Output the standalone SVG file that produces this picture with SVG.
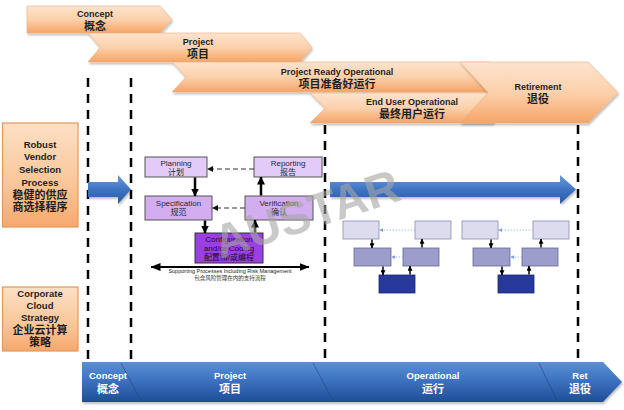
<svg xmlns="http://www.w3.org/2000/svg" width="624" height="410" viewBox="0 0 624 410">
<defs>
<linearGradient id="gOr" x1="0" y1="0" x2="0" y2="1">
<stop offset="0" stop-color="#fde3cd"/><stop offset="0.5" stop-color="#fcd1ac"/><stop offset="1" stop-color="#f5a466"/>
</linearGradient>
<linearGradient id="gBox" x1="0" y1="0" x2="0" y2="1">
<stop offset="0" stop-color="#fde0c6"/><stop offset="0.6" stop-color="#fbc597"/><stop offset="1" stop-color="#f6a86c"/>
</linearGradient>
<linearGradient id="gBlue" x1="0" y1="0" x2="0" y2="1">
<stop offset="0" stop-color="#6c9bdd"/><stop offset="0.5" stop-color="#3e74c3"/><stop offset="1" stop-color="#2b5aa6"/>
</linearGradient>
<linearGradient id="gBar" x1="0" y1="0" x2="0" y2="1">
<stop offset="0" stop-color="#5b90d7"/><stop offset="0.5" stop-color="#3a6fbd"/><stop offset="1" stop-color="#1f4d97"/>
</linearGradient>
<filter id="sh" x="-5%" y="-20%" width="110%" height="150%">
<feDropShadow dx="1" dy="2" stdDeviation="1.2" flood-color="#000" flood-opacity="0.25"/>
</filter>
<marker id="ah" viewBox="0 0 8 8" refX="7.5" refY="4" markerWidth="8" markerHeight="8" markerUnits="userSpaceOnUse" orient="auto">
<path d="M0,0 L8,4 L0,8 Z" fill="#000"/>
</marker>
<marker id="ahs" viewBox="0 0 8 8" refX="7.5" refY="4" markerWidth="6" markerHeight="6" markerUnits="userSpaceOnUse" orient="auto">
<path d="M0,0 L8,4 L0,8 Z" fill="#111"/>
</marker>
<marker id="ahw" viewBox="0 0 10 8" refX="9.5" refY="4" markerWidth="10" markerHeight="8" markerUnits="userSpaceOnUse" orient="auto-start-reverse">
<path d="M0,0 L10,4 L0,8 Z" fill="#000"/>
</marker>
<marker id="ahm" viewBox="0 0 8 8" refX="7.5" refY="4" markerWidth="5" markerHeight="5" markerUnits="userSpaceOnUse" orient="auto">
<path d="M0,0 L8,4 L0,8 Z" fill="#000"/>
</marker>
<marker id="ahb" viewBox="0 0 8 8" refX="7.5" refY="4" markerWidth="4" markerHeight="4" markerUnits="userSpaceOnUse" orient="auto">
<path d="M0,0 L8,4 L0,8 Z" fill="#7fa3dc"/>
</marker>
</defs>
<style>
text{font-family:"Liberation Sans","Noto Sans CJK SC",sans-serif;text-anchor:middle}
.chev{fill:url(#gOr);stroke:#f0b080;stroke-width:0.6;filter:url(#sh)}
.ct{font-size:9px;font-weight:bold;fill:#1e1e1e}
.cz{font-size:11px;font-weight:bold;fill:#1e1e1e}
.lbox{fill:url(#gBox);stroke:#e3985c;stroke-width:1.2}
.lt{font-size:9.5px;font-weight:bold;fill:#1e1e1e}
.lz{font-size:11px;font-weight:bold;fill:#1e1e1e}
.dash{stroke:#000;stroke-width:2.5;stroke-dasharray:9 7;fill:none}
.pa{fill:#e2cbf8;stroke:#555;stroke-width:1}
.pb{fill:#d2aef1;stroke:#555;stroke-width:1}
.pc{fill:#9a3fe4;stroke:#333;stroke-width:1}
.pt{font-size:8px;fill:#2a2a2a}
.ptc{font-size:8px;fill:#1a0a30}
.arr{stroke:#000;stroke-width:2.5;fill:none;marker-end:url(#ah)}
.darr{stroke:#333;stroke-width:1.1;stroke-dasharray:5 3;fill:none;marker-end:url(#ahs)}
.m1{fill:#dcdcee;stroke:#8c8cae;stroke-width:0.8}
.m2{fill:#9d9dcc;stroke:#66668e;stroke-width:0.8}
.m3{fill:#27399b;stroke:#1a2870;stroke-width:0.8}
.marr{stroke:#000;stroke-width:1.5;fill:none;marker-end:url(#ahm)}
.mdot{stroke:#8fb0e0;stroke-width:0.8;stroke-dasharray:1.5 1.5;fill:none;marker-end:url(#ahb)}
.bt{font-size:9.5px;font-weight:bold;fill:#fff}
.bz{font-size:11px;font-weight:bold;fill:#fff}
</style>

<!-- phase chevrons -->
<g id="chev-concept">
<path class="chev" d="M27,6 L160,6 L172,19.5 L160,33 L27,33 Z"/>
<text class="ct" x="95" y="17">Concept</text>
<text class="cz" x="95" y="30">概念</text>
</g>
<g id="chev-project">
<path class="chev" d="M88,33 L300,33 L312,47.5 L300,62 L88,62 L100,47.5 Z"/>
<text class="ct" x="198" y="45">Project</text>
<text class="cz" x="198" y="58">项目</text>
</g>
<g id="chev-ready">
<path class="chev" d="M172,62 L490,62 L505,77 L490,92 L172,92 L186,77 Z"/>
<text class="ct" x="337" y="74.5">Project Ready Operational</text>
<text class="cz" x="337" y="87.5">项目准备好运行</text>
</g>
<g id="chev-enduser">
<path class="chev" d="M310,93 L492,93 L507,108 L492,123 L310,123 L325,108 Z"/>
<text class="ct" x="412" y="105">End User Operational</text>
<text class="cz" x="412" y="118">最终用户运行</text>
</g>
<g id="chev-retire">
<path class="chev" d="M460,62 L588,62 L618,92.5 L588,123 L460,123 L488,92.5 Z"/>
<text class="ct" x="538" y="90">Retirement</text>
<text class="cz" x="538" y="103">退役</text>
</g>

<!-- dashed phase dividers -->
<g id="dividers">
<line class="dash" x1="88" y1="78" x2="88" y2="362"/>
<line class="dash" x1="131" y1="78" x2="131" y2="362"/>
<line class="dash" x1="325" y1="125" x2="325" y2="362"/>
<line class="dash" x1="578" y1="125" x2="578" y2="362"/>
</g>

<!-- left boxes -->
<g id="box-vendor">
<rect class="lbox" x="2.5" y="123" width="75.5" height="104"/>
<text class="lt" x="40" y="148">Robust</text>
<text class="lt" x="40" y="160">Vendor</text>
<text class="lt" x="40" y="173">Selection</text>
<text class="lt" x="40" y="186">Process</text>
<text class="lz" x="40" y="199">稳健的供应</text>
<text class="lz" x="40" y="211">商选择程序</text>
</g>
<g id="box-cloud">
<rect class="lbox" x="2.5" y="287" width="75.5" height="64"/>
<text class="lt" x="40" y="297">Corporate</text>
<text class="lt" x="40" y="309">Cloud</text>
<text class="lt" x="40" y="321">Strategy</text>
<text class="lz" x="40" y="334">企业云计算</text>
<text class="lz" x="40" y="346">策略</text>
</g>

<!-- big blue arrows -->
<g id="blue-arrows" filter="url(#sh)">
<path d="M88,182 L118,182 L118,175 L131,189.5 L118,204 L118,197 L88,197 Z" fill="url(#gBlue)"/>
<path d="M330,182 L560,182 L560,175 L576,189.5 L560,204 L560,197 L330,197 Z" fill="url(#gBlue)"/>
</g>

<!-- process cycle -->
<g id="node-planning">
<rect class="pa" x="145" y="157" width="62" height="20"/>
<text class="pt" x="176" y="166">Planning</text>
<text class="pt" x="176" y="175">计划</text>
</g>
<g id="node-reporting">
<rect class="pa" x="254" y="157" width="68" height="20"/>
<text class="pt" x="288" y="166">Reporting</text>
<text class="pt" x="288" y="175">报告</text>
</g>
<g id="node-spec">
<rect class="pb" x="145" y="196" width="67" height="24"/>
<text class="pt" x="178.5" y="206">Specification</text>
<text class="pt" x="178.5" y="215">规范</text>
</g>
<g id="node-verif">
<rect class="pb" x="245" y="196" width="68" height="24"/>
<text class="pt" x="279" y="206">Verification</text>
<text class="pt" x="279" y="215">确认</text>
</g>
<g id="node-config">
<rect class="pc" x="195" y="233" width="68" height="30"/>
<text class="ptc" x="229" y="242">Configuration</text>
<text class="ptc" x="229" y="251">and/or Coding</text>
<text class="ptc" x="229" y="260">配置和/或编程</text>
</g>
<g id="supporting">
<line x1="151" y1="267" x2="309" y2="267" stroke="#000" stroke-width="2" marker-start="url(#ahw)" marker-end="url(#ahw)"/>
<text x="230" y="273" style="font-size:5.5px;fill:#222">Supporting Processes Including Risk Management</text>
<text x="230" y="280" style="font-size:5.5px;fill:#333">包含风险管理在内的支持流程</text>
</g>

<!-- operational mini cycles -->
<g id="ops-1">
<rect class="m1" x="343" y="221" width="36" height="18"/>
<rect class="m1" x="415" y="221" width="36" height="18"/>
<rect class="m2" x="354" y="248" width="37" height="18"/>
<rect class="m2" x="403" y="248" width="36" height="18"/>
<rect class="m3" x="379" y="275" width="36" height="18"/>
</g>
<g id="ops-2">
<rect class="m1" x="462" y="221" width="36" height="18"/>
<rect class="m1" x="533" y="221" width="36" height="18"/>
<rect class="m2" x="473" y="248" width="37" height="18"/>
<rect class="m2" x="522" y="248" width="36" height="18"/>
<rect class="m3" x="498" y="275" width="36" height="18"/>
</g>

<!-- connectors -->
<g id="connectors">
<line class="arr" x1="195" y1="177.5" x2="195" y2="196"/>
<line class="arr" x1="205" y1="220.5" x2="205" y2="233"/>
<line class="arr" x1="255" y1="232.5" x2="255" y2="220"/>
<line class="arr" x1="261" y1="195.5" x2="261" y2="177"/>
<line class="darr" x1="254" y1="169" x2="207.5" y2="169"/>
<line class="darr" x1="245" y1="208" x2="212.5" y2="208"/>
<line class="marr" x1="372" y1="239.5" x2="372" y2="248"/>
<line class="marr" x1="383" y1="266.5" x2="383" y2="275"/>
<line class="marr" x1="410" y1="274.5" x2="410" y2="266"/>
<line class="marr" x1="422" y1="247.5" x2="422" y2="239"/>
<line class="mdot" x1="415" y1="230" x2="379.5" y2="230"/>
<line class="mdot" x1="403" y1="257" x2="391.5" y2="257"/>
<line class="marr" x1="491" y1="239.5" x2="491" y2="248"/>
<line class="marr" x1="502" y1="266.5" x2="502" y2="275"/>
<line class="marr" x1="529" y1="274.5" x2="529" y2="266"/>
<line class="marr" x1="541" y1="247.5" x2="541" y2="239"/>
<line class="mdot" x1="533" y1="230" x2="498.5" y2="230"/>
<line class="mdot" x1="522" y1="257" x2="510.5" y2="257"/>
</g>

<!-- watermark -->
<text x="220" y="259" transform="rotate(-18 220 259)" style="font-size:47px;font-weight:bold;fill:#a6a6a6;opacity:0.6;text-anchor:start">AUSTAR</text>

<!-- bottom lifecycle bar -->
<g id="bottom-bar">
<path d="M82,362 L603,362 L622,382 L603,402 L82,402 Z" fill="url(#gBar)" filter="url(#sh)"/>
<g stroke="#1d4586" stroke-width="1" opacity="0.6">
<line x1="121" y1="363" x2="141" y2="401"/>
<line x1="313" y1="363" x2="333" y2="401"/>
<line x1="539" y1="363" x2="557" y2="401"/>
</g>
<text class="bt" x="108" y="379">Concept</text>
<text class="bz" x="108" y="393">概念</text>
<text class="bt" x="230" y="379">Project</text>
<text class="bz" x="230" y="393">项目</text>
<text class="bt" x="433" y="379">Operational</text>
<text class="bz" x="433" y="393">运行</text>
<text class="bt" x="580" y="379">Ret</text>
<text class="bz" x="580" y="393">退役</text>
</g>
</svg>
